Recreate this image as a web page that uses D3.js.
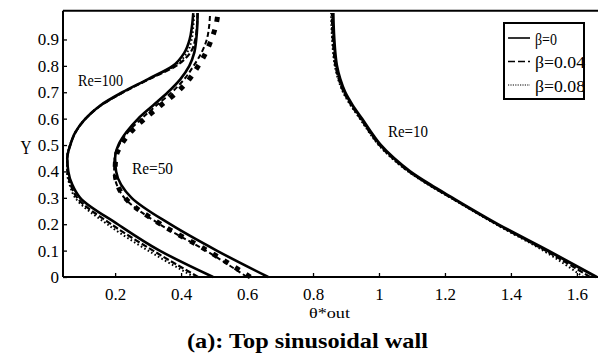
<!DOCTYPE html>
<html>
<head>
<meta charset="utf-8">
<script src="https://cdn.jsdelivr.net/npm/d3@7"></script>
<style>
  html, body { margin: 0; padding: 0; background: #fff; }
  svg { display: block; }
  text { font-family: "Liberation Serif", "Times New Roman", Times, serif; fill: #000; }
</style>
</head>
<body>
<svg id="chart" width="598" height="354"></svg>
<script>
// Y positions shared by every profile
const yLevels = [0, 0.1, 0.2, 0.3, 0.35, 0.4, 0.45, 0.5, 0.55, 0.6, 0.65, 0.7, 0.75, 0.8, 0.85, 0.9, 0.95, 1.0];

// θ*out profiles, Re = 100
const re100Beta0    = [0.497, 0.335, 0.208, 0.094, 0.070, 0.058, 0.055, 0.064, 0.080, 0.110, 0.155, 0.222, 0.300, 0.375, 0.410, 0.426, 0.433, 0.437];
const re100Beta004  = [0.452, 0.315, 0.188, 0.085, 0.065, 0.056, 0.055, 0.064, 0.081, 0.111, 0.157, 0.225, 0.304, 0.385, 0.428, 0.443, 0.448, 0.450];
const re100Beta008  = [0.440, 0.300, 0.176, 0.079, 0.062, 0.054, 0.054, 0.063, 0.080, 0.110, 0.156, 0.224, 0.302, 0.380, 0.418, 0.432, 0.437, 0.440];

// θ*out profiles, Re = 50
const re50Beta0     = [0.664, 0.508, 0.367, 0.250, 0.218, 0.203, 0.200, 0.210, 0.235, 0.270, 0.315, 0.360, 0.398, 0.425, 0.440, 0.446, 0.449, 0.450];
const re50Beta004   = [0.600, 0.475, 0.335, 0.228, 0.205, 0.197, 0.198, 0.212, 0.240, 0.280, 0.325, 0.372, 0.410, 0.438, 0.462, 0.478, 0.485, 0.488];
const re50Beta008   = [0.610, 0.480, 0.338, 0.230, 0.207, 0.200, 0.202, 0.218, 0.248, 0.290, 0.338, 0.388, 0.425, 0.452, 0.475, 0.492, 0.505, 0.512];

// θ*out profiles, Re = 10
const re10Beta0     = [1.660, 1.512, 1.360, 1.222, 1.155, 1.094, 1.045, 1.005, 0.975, 0.948, 0.920, 0.897, 0.882, 0.872, 0.867, 0.864, 0.862, 0.861];
const re10Beta004   = [1.640, 1.505, 1.357, 1.219, 1.151, 1.090, 1.041, 1.001, 0.971, 0.944, 0.916, 0.893, 0.878, 0.868, 0.863, 0.860, 0.858, 0.857];
const re10Beta008   = [1.620, 1.498, 1.354, 1.217, 1.149, 1.088, 1.039, 0.999, 0.969, 0.942, 0.914, 0.891, 0.876, 0.866, 0.861, 0.858, 0.856, 0.855];

// Axis ticks and legend entries
const xTicks = [0.2, 0.4, 0.6, 0.8, 1.0, 1.2, 1.4, 1.6];
const yTicks = [0, 0.1, 0.2, 0.3, 0.4, 0.5, 0.6, 0.7, 0.8, 0.9];
const legendLabels = ["β=0", "β=0.04", "β=0.08"];

const svg = d3.select("#chart");
const plotLeft = 63, plotRight = 598, plotTop = 10.7, plotBottom = 277;
const serif = "'Liberation Serif', 'Times New Roman', Times, serif";

const x = d3.scaleLinear().domain([0.042, 1.664]).range([plotLeft, plotRight]);
const y = d3.scaleLinear().domain([0, 1.009]).range([plotBottom, plotTop]);

// line styles per β
const styles = {
  solid:   { width: 2.6, dash: null },
  dashed:  { width: 2.2, dash: "6,2.5" },
  dotted:  { width: 2.0, dash: "1.6,2.4" },
  bigDash: { width: 2.0, dash: "5,3" },
  squares: { width: 5.0, dash: "5,8" }
};

const curves = [
  { xs: re100Beta008, s: styles.dotted },
  { xs: re100Beta004, s: styles.dashed },
  { xs: re100Beta0,   s: styles.solid },
  { xs: re50Beta004,  s: styles.bigDash },
  { xs: re50Beta008,  s: styles.squares },
  { xs: re50Beta0,    s: styles.solid },
  { xs: re10Beta008,  s: styles.dotted },
  { xs: re10Beta004,  s: styles.dashed },
  { xs: re10Beta0,    s: { width: 3.0, dash: null } }
];

const line = d3.line()
  .x(d => x(d[0]))
  .y(d => y(d[1]))
  .curve(d3.curveMonotoneY);

const plot = svg.append("g");
curves.forEach(c => {
  const pts = c.xs.map((v, i) => [v, yLevels[i]]);
  plot.append("path")
    .attr("d", line(pts))
    .attr("fill", "none")
    .attr("stroke", "#000")
    .attr("stroke-width", c.s.width)
    .attr("stroke-dasharray", c.s.dash);
});

// axes (ticks point inward)
const fmt = d => d === 0 ? "0" : String(+d.toFixed(1));
const xAxis = svg.append("g")
  .attr("transform", `translate(0,${plotBottom})`)
  .call(d3.axisBottom(x).tickValues(xTicks).tickFormat(fmt).tickSize(-4).tickPadding(11));
const yAxis = svg.append("g")
  .attr("transform", `translate(${plotLeft},0)`)
  .call(d3.axisLeft(y).tickValues(yTicks).tickFormat(fmt).tickSize(-4).tickPadding(4));

[xAxis, yAxis].forEach(g => {
  g.attr("font-family", serif).attr("font-size", 17);
  g.select(".domain").remove();
  g.selectAll(".tick line").attr("stroke", "#000").attr("stroke-width", 1.3);
  g.selectAll(".tick text")
    .style("font-family", serif)
    .style("font-size", "17px")
    .attr("fill", "#000");
});

// frame lines
svg.append("line").attr("x1", plotLeft).attr("x2", plotRight).attr("y1", plotBottom).attr("y2", plotBottom)
  .attr("stroke", "#000").attr("stroke-width", 2);
svg.append("line").attr("x1", plotLeft).attr("x2", plotRight).attr("y1", plotTop).attr("y2", plotTop)
  .attr("stroke", "#000").attr("stroke-width", 2);
svg.append("line").attr("x1", plotLeft).attr("x2", plotLeft).attr("y1", plotTop).attr("y2", plotBottom)
  .attr("stroke", "#000").attr("stroke-width", 2);

// text helper with fixed rendered width
function label(txt, xPos, yPos, size, width, weight, anchor) {
  const t = svg.append("text")
    .attr("x", xPos).attr("y", yPos)
    .attr("text-anchor", anchor || "start")
    .style("font-family", serif)
    .style("font-size", size + "px")
    .style("font-weight", weight || "normal")
    .text(txt);
  if (width) t.attr("textLength", width).attr("lengthAdjust", "spacingAndGlyphs");
  return t;
}

label("Re=100", 78, 86, 16, 45);
label("Re=50", 132, 174, 16, 41);
label("Re=10", 388, 137, 16, 40);
label("Y", 20.5, 154, 18, 11);
label("θ*out", 309, 318, 15, 41);
label("(a): Top sinusoidal wall", 187, 348, 22, 241, "bold");

// legend
const lg = svg.append("g");
lg.append("rect").attr("x", 504).attr("y", 23).attr("width", 80).attr("height", 76)
  .attr("fill", "#fff").attr("stroke", "#000").attr("stroke-width", 2);
const legendStyles = [
  { dash: null, w: 1.6 },
  { dash: "7,3", w: 1.6 },
  { dash: "1.2,1.2", w: 1.2 }
];
legendLabels.forEach((t, i) => {
  const cy = 38 + i * 23.5;
  lg.append("line").attr("x1", 508).attr("x2", 530).attr("y1", cy).attr("y2", cy)
    .attr("stroke", "#000").attr("stroke-width", legendStyles[i].w)
    .attr("stroke-dasharray", legendStyles[i].dash);
  label(t, 535, cy + 6.5, 17, [22, 50, 50][i]);
});
</script>
</body>
</html>
